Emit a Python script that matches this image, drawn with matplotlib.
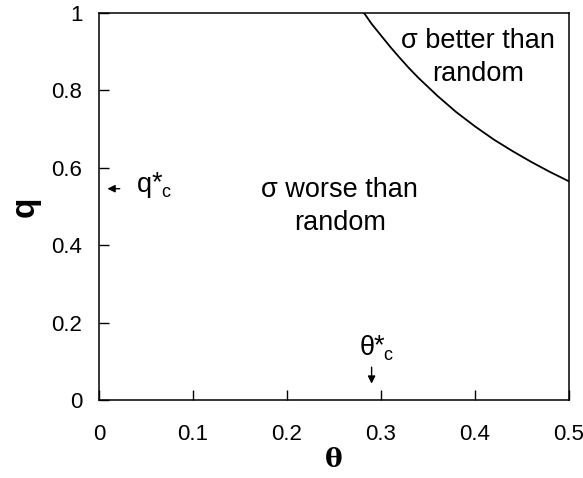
import matplotlib
matplotlib.use("Agg")
import matplotlib.pyplot as plt

plt.rcParams['font.family'] = ['Liberation Sans', 'DejaVu Sans']

# boundary curve
theta = [0.282, 0.29, 0.30, 0.31, 0.32, 0.33, 0.34, 0.36, 0.38, 0.40,
         0.42, 0.44, 0.46, 0.48, 0.50]
q = [1.0, 0.972, 0.942, 0.912, 0.884, 0.857, 0.832, 0.786, 0.744, 0.707,
     0.673, 0.643, 0.615, 0.589, 0.565]

q_crit = 0.546
theta_crit = 0.29

xticks = [0, 0.1, 0.2, 0.3, 0.4, 0.5]
xtick_labels = ['0', '0.1', '0.2', '0.3', '0.4', '0.5']
yticks = [0, 0.2, 0.4, 0.6, 0.8, 1]
ytick_labels = ['0', '0.2', '0.4', '0.6', '0.8', '1']


def star_label(ax, x, y, base):
    # base letter, full size asterisk, small subscript c
    ax.annotate(base, (x, y), ha='left', va='baseline', fontsize=19.5)
    w = 10.8 if base == 'q' else 10.2
    ax.annotate('*', (x, y), xytext=(w, 1), textcoords='offset points',
                ha='left', va='baseline', fontsize=19.5)
    ax.annotate('c', (x, y), xytext=(w + 7, -4), textcoords='offset points',
                ha='left', va='baseline', fontsize=13)


fig = plt.figure(figsize=(5.83, 4.78), dpi=100)
ax = fig.add_axes([99 / 583, 78 / 478, 470 / 583, 387 / 478])

ax.plot(theta, q, color='black', lw=1.3)

ax.set_xlim(0, 0.5)
ax.set_ylim(0, 1)
ax.set_xticks(xticks)
ax.set_xticklabels(xtick_labels)
ax.set_yticks(yticks)
ax.set_yticklabels(ytick_labels)
ax.tick_params(direction='in', length=7, width=1, labelsize=16, pad=12)
ax.tick_params(axis='x', pad=17)
for s in ax.spines.values():
    s.set_linewidth(1.1)

ax.set_xlabel('θ', fontsize=19, fontweight='bold', family='DejaVu Serif',
              labelpad=2)
ax.set_ylabel('q', fontsize=24, fontweight='bold', labelpad=8)

# region labels
ax.text(0.256, 0.5, 'σ worse than\nrandom', ha='center', va='center',
        fontsize=19.5, linespacing=1.36)
ax.text(0.403, 0.885, 'σ better than\nrandom', ha='center', va='center',
        fontsize=19.5, linespacing=1.36)

# critical values
ax.annotate('', xy=(0.006, q_crit), xytext=(0.025, q_crit),
            arrowprops=dict(arrowstyle='-|>', color='black', lw=1,
                            mutation_scale=11))
star_label(ax, 0.040, 0.538, 'q')
ax.annotate('', xy=(theta_crit, 0.035), xytext=(theta_crit, 0.092),
            arrowprops=dict(arrowstyle='-|>', color='black', lw=1,
                            mutation_scale=11))
star_label(ax, 0.2775, 0.117, 'θ')

fig.savefig('out.png', dpi=100)
